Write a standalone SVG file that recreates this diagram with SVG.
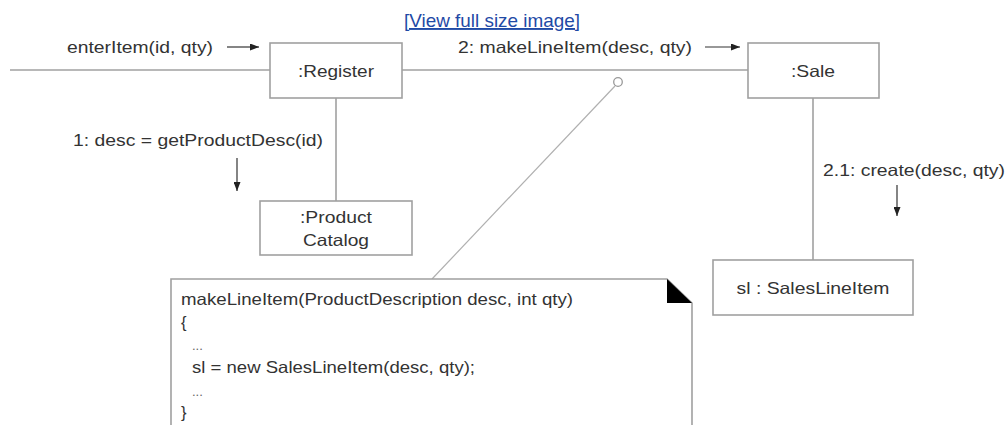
<svg xmlns="http://www.w3.org/2000/svg" width="1008" height="425" viewBox="0 0 1008 425">
<style>
text{font-family:"Liberation Sans",Arial,sans-serif;font-size:16.5px;fill:#333}
.box{fill:#fff;stroke:#a0a0a0;stroke-width:1.6}
.link{fill:none;stroke:#a0a0a0;stroke-width:1.6}
.thin{fill:none;stroke:#b0b0b0;stroke-width:1.2}
.arr{fill:none;stroke:#333;stroke-width:1.2}
.c{text-anchor:middle}
.url{font-size:19px;fill:#1f4aa6;text-decoration:underline}
.dots{font-size:13px;fill:#666}
</style>
<defs>
<marker id="ah" markerWidth="9" markerHeight="7" refX="9" refY="3.5" orient="auto" markerUnits="userSpaceOnUse">
<path d="M0,0 L9,3.5 L0,7 Z" fill="#222"/>
</marker>
</defs>
<rect width="1008" height="425" fill="#fff"/>
<text class="url" x="404" y="27" textLength="176" lengthAdjust="spacingAndGlyphs">[View full size image]</text>
<g id="connectors">
<line class="link" x1="10" y1="70" x2="270" y2="70"/>
<line class="link" x1="402" y1="70" x2="748" y2="70"/>
<line class="link" x1="336" y1="98" x2="336" y2="201"/>
<line class="link" x1="813" y1="98" x2="813" y2="260"/>
<line class="thin" x1="615" y1="86" x2="432" y2="279"/>
<circle cx="618" cy="82" r="4.3" fill="#fff" stroke="#999" stroke-width="1.3"/>
<text x="67" y="53" textLength="146" lengthAdjust="spacingAndGlyphs">enterItem(id, qty)</text>
<line class="arr" x1="227" y1="47" x2="259" y2="47" marker-end="url(#ah)"/>
<text x="458" y="53" textLength="234" lengthAdjust="spacingAndGlyphs">2: makeLineItem(desc, qty)</text>
<line class="arr" x1="705" y1="47" x2="740" y2="47" marker-end="url(#ah)"/>
<text x="73" y="146" textLength="250" lengthAdjust="spacingAndGlyphs">1: desc = getProductDesc(id)</text>
<line class="arr" x1="237" y1="158" x2="237" y2="191" marker-end="url(#ah)"/>
<text x="823" y="176" textLength="182" lengthAdjust="spacingAndGlyphs">2.1: create(desc, qty)</text>
<line class="arr" x1="897" y1="185" x2="897" y2="216" marker-end="url(#ah)"/>
</g>
<g id="register">
<rect class="box" x="270" y="43" width="132" height="55"/>
<text class="c" x="336" y="77" textLength="76" lengthAdjust="spacingAndGlyphs">:Register</text>
</g>
<g id="sale">
<rect class="box" x="748" y="43" width="131" height="55"/>
<text class="c" x="813" y="77" textLength="44" lengthAdjust="spacingAndGlyphs">:Sale</text>
</g>
<g id="productCatalog">
<rect class="box" x="260" y="201" width="152" height="54"/>
<text class="c" x="336" y="223" textLength="72" lengthAdjust="spacingAndGlyphs">:Product</text>
<text class="c" x="336" y="246" textLength="66" lengthAdjust="spacingAndGlyphs">Catalog</text>
</g>
<g id="salesLineItem">
<rect class="box" x="713" y="260" width="200" height="55"/>
<text class="c" x="813" y="294" textLength="153" lengthAdjust="spacingAndGlyphs">sl : SalesLineItem</text>
</g>
<g id="note">
<path class="box" d="M171,430 L171,279 L667,279 L692,303 L692,430"/>
<path d="M667,279 L667,303 L692,303 Z" fill="#000"/>
<text x="181" y="305" textLength="392" lengthAdjust="spacingAndGlyphs">makeLineItem(ProductDescription desc, int qty)</text>
<text x="181" y="328">{</text>
<text class="dots" x="192" y="350">...</text>
<text x="192" y="373" textLength="283" lengthAdjust="spacingAndGlyphs">sl = new SalesLineItem(desc, qty);</text>
<text class="dots" x="192" y="396">...</text>
<text x="181" y="418">}</text>
</g>
</svg>
